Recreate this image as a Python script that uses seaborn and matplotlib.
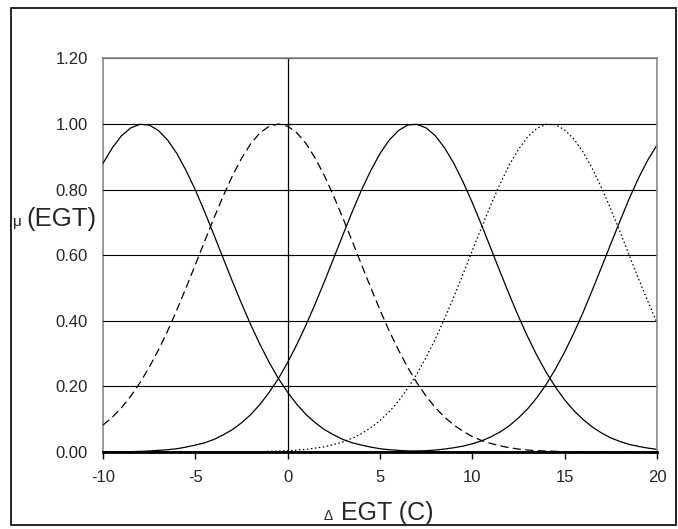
import numpy as np
import matplotlib
matplotlib.use("Agg")
import matplotlib.pyplot as plt
import seaborn as sns
import pandas as pd

# Delta EGT sample points (every 0.5 C from -10 to 20)
delta_egt = [-10.0 + 0.5 * i for i in range(61)]

# membership values mu(EGT)
mf_1 = [0.880, 0.927, 0.964, 0.988, 0.999, 0.997, 0.980, 0.951, 0.910, 0.858,
        0.799, 0.733, 0.663, 0.592, 0.521, 0.453, 0.388, 0.328, 0.273, 0.224,
        0.182, 0.145, 0.114, 0.089, 0.068, 0.052, 0.038, 0.028, 0.021, 0.015,
        0.010, 0.007, 0.005, 0.003, 0.002, 0.001, 0.001, 0.001, 0.000, 0.000,
        0.000, 0.000, 0.000, 0.000, 0.000, 0.000, 0.000, 0.000, 0.000, 0.000,
        0.000, 0.000, 0.000, 0.000, 0.000, 0.000, 0.000, 0.000, 0.000, 0.000,
        0.000]
mf_2 = [0.082, 0.106, 0.135, 0.170, 0.211, 0.258, 0.311, 0.369, 0.433, 0.501,
        0.571, 0.642, 0.712, 0.779, 0.841, 0.895, 0.940, 0.973, 0.993, 1.000,
        0.993, 0.973, 0.940, 0.895, 0.841, 0.779, 0.712, 0.642, 0.571, 0.501,
        0.433, 0.369, 0.311, 0.258, 0.211, 0.170, 0.135, 0.106, 0.082, 0.063,
        0.047, 0.035, 0.026, 0.019, 0.013, 0.009, 0.006, 0.004, 0.003, 0.002,
        0.001, 0.001, 0.001, 0.000, 0.000, 0.000, 0.000, 0.000, 0.000, 0.000,
        0.000]
mf_3 = [0.000, 0.001, 0.001, 0.001, 0.002, 0.003, 0.005, 0.007, 0.010, 0.015,
        0.021, 0.028, 0.038, 0.052, 0.068, 0.089, 0.114, 0.145, 0.182, 0.224,
        0.273, 0.328, 0.388, 0.453, 0.521, 0.592, 0.663, 0.733, 0.799, 0.858,
        0.910, 0.951, 0.980, 0.997, 0.999, 0.988, 0.964, 0.927, 0.880, 0.823,
        0.760, 0.692, 0.621, 0.550, 0.480, 0.413, 0.351, 0.294, 0.243, 0.198,
        0.159, 0.126, 0.099, 0.076, 0.058, 0.043, 0.032, 0.023, 0.017, 0.012,
        0.008]
mf_4 = [0.000, 0.000, 0.000, 0.000, 0.000, 0.000, 0.000, 0.000, 0.000, 0.000,
        0.000, 0.000, 0.000, 0.000, 0.000, 0.000, 0.001, 0.001, 0.002, 0.003,
        0.004, 0.006, 0.008, 0.012, 0.016, 0.023, 0.031, 0.042, 0.056, 0.074,
        0.096, 0.123, 0.155, 0.194, 0.238, 0.289, 0.345, 0.407, 0.473, 0.543,
        0.614, 0.685, 0.753, 0.817, 0.875, 0.923, 0.961, 0.987, 0.999, 0.998,
        0.982, 0.954, 0.914, 0.864, 0.805, 0.740, 0.671, 0.599, 0.528, 0.460,
        0.394]
mf_5 = [0.000, 0.000, 0.000, 0.000, 0.000, 0.000, 0.000, 0.000, 0.000, 0.000,
        0.000, 0.000, 0.000, 0.000, 0.000, 0.000, 0.000, 0.000, 0.000, 0.000,
        0.000, 0.000, 0.000, 0.000, 0.000, 0.000, 0.000, 0.000, 0.000, 0.000,
        0.001, 0.001, 0.001, 0.002, 0.003, 0.004, 0.006, 0.009, 0.013, 0.018,
        0.025, 0.034, 0.046, 0.061, 0.080, 0.104, 0.132, 0.166, 0.206, 0.253,
        0.305, 0.363, 0.426, 0.494, 0.564, 0.635, 0.705, 0.773, 0.835, 0.890,
        0.936]

x_ticks = [-10, -5, 0, 5, 10, 15, 20]
x_tick_labels = ["-10", "-5", "0", "5", "10", "15", "20"]
y_ticks = [0, 0.2, 0.4, 0.6, 0.8, 1.0, 1.2]
y_tick_labels = ["0.00", "0.20", "0.40", "0.60", "0.80", "1.00", "1.20"]

series = [mf_1, mf_2, mf_3, mf_4, mf_5]
dash_styles = [None, (6.5, 3.5), None, (1.2, 2.0), None]

sns.set_theme(style="white")
plt.rcParams['font.family'] = ['Liberation Sans', 'DejaVu Sans']
W, H = 678, 529
fig = plt.figure(figsize=(W / 100, H / 100), dpi=100)
L, R, T, B = 103, 657, 58.4, 452
ax = fig.add_axes([L / W, 1 - B / H, (R - L) / W, (B - T) / H])

for vals, ds in zip(series, dash_styles):
    df = pd.DataFrame({"x": delta_egt, "mu": vals})
    sns.lineplot(data=df, x="x", y="mu", ax=ax, color="black", linewidth=0.9)
    if ds is not None:
        ax.lines[-1].set_dashes(ds)

ax.set_xlim(-10, 20)
ax.set_ylim(0, 1.2)
ax.set_xticks(x_ticks)
ax.set_yticks(y_ticks)
ax.grid(axis="y", color="black", linewidth=0.8)
ax.set_axisbelow(True)

ax.spines['left'].set_position(('data', 0))
ax.spines['left'].set_color('black')
ax.spines['left'].set_linewidth(0.9)
ax.tick_params(axis='y', which='both', left=True, direction='inout', length=6,
               width=0.8, color='black', labelleft=False)
for s in ['top', 'right']:
    ax.spines[s].set_color('#888888')
    ax.spines[s].set_linewidth(1.2)
ax.spines['bottom'].set_color('black')
ax.spines['bottom'].set_linewidth(2)
ax.tick_params(axis='x', bottom=True, direction='out', length=5, width=1,
               color='black', labelsize=12, pad=8)
ax.set_xticklabels(x_tick_labels)

sec = ax.secondary_yaxis(0)
sec.set_yticks(y_ticks)
sec.set_yticklabels(y_tick_labels)
sec.tick_params(length=0, labelsize=12, pad=11)
sec.spines['left'].set_color('#888888')
sec.spines['left'].set_linewidth(1.2)
ax.set_xlabel("")
ax.set_ylabel("")

fig.text(324 / W, 1 - 520 / H, "Δ", fontsize=10, ha='left', va='baseline')
fig.text(341 / W, 1 - 520 / H, "EGT (C)", fontsize=18, ha='left', va='baseline')
fig.text(13 / W, 1 - 226 / H, "μ", fontsize=11, ha='left', va='baseline')
fig.text(26 / W, 1 - 226 / H, "(EGT)", fontsize=18.5, ha='left', va='baseline')

border = plt.Rectangle((11 / W, 1 - 525 / H), (676 - 11) / W, (525 - 8) / H,
                       transform=fig.transFigure, fill=False, edgecolor='black',
                       linewidth=1.2)
fig.add_artist(border)

fig.savefig("out.png")
